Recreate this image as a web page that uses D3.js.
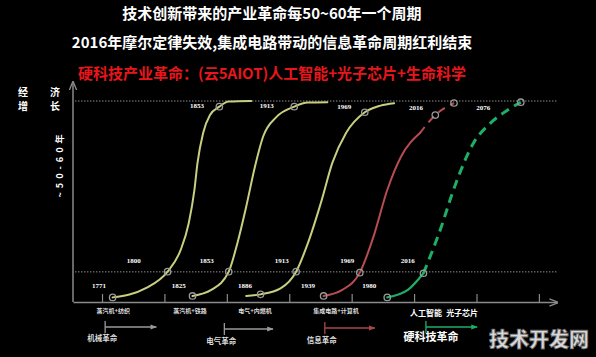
<!DOCTYPE html>
<html><head><meta charset="utf-8">
<script src="https://cdn.jsdelivr.net/npm/d3@7"></script>
<style>body{margin:0;background:#000;} svg{display:block;}</style>
</head><body>
<svg id="c" width="596" height="357"></svg>
<script>
// ---------- data ----------
const titleLines = ["技术创新带来的产业革命每50~60年一个周期", "2016年摩尔定律失效,集成电路带动的信息革命周期红利结束"];
const subtitle = "硬科技产业革命：(云5AIOT)人工智能+光子芯片+生命科学";
const yLabelChars = [["经", "济"], ["增", "长"]];
const yPeriodLabel = "~50-60年";
const xTicks = [1, 2, 3, 4, 5, 6, 7, 8];
const refLevels = [15, 100];

// curves: [axis position, growth level]
const curve1 = [[1.17,2.3],[1.71,7.0],[2.05,15.1],[2.26,25.9],[2.39,39.3],[2.48,55.7],[2.53,69.2],[2.62,84.1],[2.73,93.0],[2.88,97.2],[3.03,99.7],[3.39,100]];
const curve2 = [[2.45,3.0],[2.75,6.0],[3.03,15.1],[3.17,29.4],[3.31,47.4],[3.45,67.3],[3.58,82.2],[3.80,92.2],[4.08,97.2],[4.30,99.2],[4.61,99.4]];
const curve3 = [[3.31,3.0],[3.54,3.8],[3.86,6.8],[4.11,15.1],[4.30,29.4],[4.52,50.7],[4.69,69.2],[4.91,84.1],[5.21,94.4],[5.46,97.7],[5.68,98.9]];
const curve4 = [[4.55,3.0],[4.85,6.0],[5.13,14.6],[5.35,32.5],[5.57,55.7],[5.79,72.3],[6.09,83.9],[6.34,93.0],[6.64,99.0]];
const curve5 = [[5.57,2.3],[5.90,6.0],[6.15,14.3],[6.40,34.2],[6.67,59.1],[6.95,79.0],[7.22,88.9],[7.50,95.5],[7.71,99.4]];
const curves = [curve1, curve2, curve3, curve4, curve5];
const solidUntil = [11, 10, 10, 6, 2];   // index where the solid part ends

const markers = [[1.17,2.3],[2.05,15.1],[2.88,97.2],[2.45,3.0],[3.03,15.1],[4.08,97.2],[3.54,3.8],[4.11,15.1],[5.21,94.4],
                 [4.55,3.0],[5.13,14.6],[6.34,93.0],[6.64,99.0],[5.57,2.3],[6.15,14.3],[7.71,99.4]];

const yearLabels = ["1771","1800","1853","1825","1886","1913","1939","1969","1980","2016","1853","1913","1969","2016","2076"];
const yearLabelPos = [[0.95,8],[1.51,20.4],[2.68,20.4],[2.23,8],[3.29,8],[3.88,20.4],[4.30,8],[4.93,20.4],[5.28,8],[5.90,20.4],
                      [2.52,97.5],[3.64,97.5],[4.88,97.0],[6.03,96.5],[7.11,96.5]];

const techLabels = ["蒸汽机+纺织", "蒸汽机+铁路", "电气+内燃机", "集成电路+计算机"];
const techPos = [1.18, 2.41, 3.45, 4.75];
const futureTech = ["人工智能", "光子芯片"];
const futureTechPos = [6.19, 6.77];

const revolutions = ["机械革命", "电气革命", "信息革命", "硬科技革命"];
const revStart = [1.05, 2.96, 4.57, 6.19];
const revEnd = [1.87, 3.74, 5.37, 7.01];
const watermark = "技术开发网";

// ---------- styles ----------
const curveColors = ["#c9cf80", "#c9cf80", "#c9cf80", "#b84c50", "#1fae66"];
const curveWidths = [2, 2, 2, 2, 2.2];
const dashWidths = [2, 2, 2, 2, 3];
const dashArrays = ["", "", "", "8,6", "9,6"];
const revColors = ["#9a9a9a", "#9a9a9a", "#a9474b", "#1fae66"];
const revY = [327, 329, 328, 327];
const revTextY = [341, 344, 343, 341];

const svg = d3.select("#c");
svg.append("rect").attr("width", 596).attr("height", 357).attr("fill", "#000");

const x = d3.scaleLinear().domain([0.535, 8.29]).range([73, 557]);
const y = d3.scaleLinear().domain([0, 100]).range([302, 101]);

const defs = svg.append("defs");
defs.append("marker").attr("id", "arr").attr("viewBox", "0 0 10 10").attr("refX", 9).attr("refY", 5)
  .attr("markerWidth", 6).attr("markerHeight", 6).attr("orient", "auto-start-reverse")
  .append("path").attr("d", "M0,1 L10,5 L0,9").attr("fill", "none").attr("stroke", "#8a8a8a").attr("stroke-width", 1.5);
revColors.forEach((c, i) => {
  defs.append("marker").attr("id", "ra" + i).attr("viewBox", "0 0 10 10").attr("refX", 9).attr("refY", 5)
    .attr("markerWidth", 5).attr("markerHeight", 5).attr("orient", "auto")
    .append("path").attr("d", "M0,1 L10,5 L0,9 Z").attr("fill", c);
});

const F = "'Noto Sans CJK SC','Noto Sans',sans-serif";

// titles
svg.selectAll("text.title").data(titleLines).join("text").attr("class", "title")
  .attr("x", 272).attr("y", (d, i) => 19 + i * 29).attr("text-anchor", "middle")
  .attr("fill", "#fff").attr("font-family", F).attr("font-weight", "bold").attr("font-size", 15).text(d => d);
svg.append("text").attr("x", 272).attr("y", 79).attr("text-anchor", "middle").attr("fill", "#e8161c")
  .attr("font-family", F).attr("font-weight", "bold").attr("font-size", 15).text(subtitle);

// y label
yLabelChars.forEach((row, r) => row.forEach((ch, c) => {
  svg.append("text").attr("x", 23 + c * 32).attr("y", 96 + r * 14).attr("text-anchor", "middle")
    .attr("fill", "#fff").attr("font-family", F).attr("font-weight", "bold").attr("font-size", 10).text(ch);
}));
svg.append("text").attr("transform", "translate(63,164) rotate(-90)").attr("text-anchor", "middle")
  .attr("fill", "#fff").attr("font-family", F).attr("font-weight", "bold").attr("font-size", 9)
  .attr("letter-spacing", 4).text(yPeriodLabel);

// axes
const yAx = d3.scaleLinear().domain([0, 109.5]).range([302, 82]);
const gy = svg.append("g").attr("transform", "translate(73,0)").call(d3.axisLeft(yAx).tickValues([]).tickSizeOuter(0));
gy.select(".domain").attr("stroke", "#8a8a8a").attr("stroke-width", 1.5).attr("marker-end", "url(#arr)")
  .attr("d", `M0,${yAx(0)}V${yAx(109.5)}`);
const gx = svg.append("g").attr("transform", "translate(0,302)")
  .call(d3.axisTop(x).tickValues(xTicks).tickSize(8).tickSizeOuter(0).tickFormat(""));
gx.select(".domain").attr("stroke", "#8a8a8a").attr("stroke-width", 1.5).attr("marker-end", "url(#arr)");
gx.selectAll(".tick line").attr("stroke", "#8a8a8a").attr("stroke-width", 1.2);

// reference dotted lines
svg.selectAll("line.ref").data(refLevels).join("line").attr("class", "ref")
  .attr("x1", x(0.57)).attr("x2", x(8.3)).attr("y1", d => y(d)).attr("y2", d => y(d))
  .attr("stroke", "#aaa").attr("stroke-width", 1).attr("stroke-dasharray", "1.2,1.8");

// curves
const line = d3.line().x(d => x(d[0])).y(d => y(d[1])).curve(d3.curveMonotoneX);
curves.forEach((c, i) => {
  const s = solidUntil[i];
  svg.append("path").attr("d", line(c.slice(0, s + 1))).attr("fill", "none")
    .attr("stroke", curveColors[i]).attr("stroke-width", curveWidths[i]).attr("stroke-linecap", "round");
  if (s < c.length - 1) {
    svg.append("path").attr("d", line(c.slice(s))).attr("fill", "none")
      .attr("stroke", curveColors[i]).attr("stroke-width", dashWidths[i]).attr("stroke-dasharray", dashArrays[i]);
  }
});

// markers
svg.selectAll("circle.m").data(markers).join("circle").attr("class", "m")
  .attr("cx", d => x(d[0])).attr("cy", d => y(d[1])).attr("r", 3.2)
  .attr("fill", "none").attr("stroke", "#9a9a9a").attr("stroke-width", 1.3);

// year labels
svg.selectAll("text.yr").data(yearLabels).join("text").attr("class", "yr")
  .attr("x", (d, i) => x(yearLabelPos[i][0])).attr("y", (d, i) => y(yearLabelPos[i][1])).attr("dy", "0.35em")
  .attr("text-anchor", "middle").attr("fill", "#fff").attr("font-family", "'Liberation Serif',serif")
  .attr("font-weight", "bold").attr("font-size", 7).text(d => d);

// tech labels
svg.selectAll("text.tech").data(techLabels).join("text").attr("class", "tech")
  .attr("x", (d, i) => x(techPos[i])).attr("y", 313).attr("text-anchor", "middle")
  .attr("fill", "#ddd").attr("font-family", F).attr("font-weight", "bold").attr("font-size", 6).text(d => d);
svg.selectAll("text.ftech").data(futureTech).join("text").attr("class", "ftech")
  .attr("x", (d, i) => x(futureTechPos[i])).attr("y", 316).attr("text-anchor", "middle")
  .attr("fill", "#fff").attr("font-family", F).attr("font-weight", "bold").attr("font-size", 8).text(d => d);

// revolution arrows
revolutions.forEach((r, i) => {
  const c = revColors[i];
  svg.append("line").attr("x1", x(revStart[i])).attr("x2", x(revStart[i])).attr("y1", revY[i] - 6).attr("y2", revY[i] + 6)
    .attr("stroke", c).attr("stroke-width", 1.3);
  svg.append("line").attr("x1", x(revStart[i])).attr("x2", x(revEnd[i])).attr("y1", revY[i]).attr("y2", revY[i])
    .attr("stroke", c).attr("stroke-width", 1.3).attr("marker-end", `url(#ra${i})`);
  const big = i === 3;
  svg.append("text").attr("x", big ? x(revStart[i]) + 5 : x(revStart[i]) - 3).attr("y", revTextY[i])
    .attr("text-anchor", "middle").attr("fill", big ? "#fff" : "#ddd").attr("font-family", F)
    .attr("font-weight", "bold").attr("font-size", big ? 11 : 7.5).text(r);
});

// watermark
svg.append("text").attr("x", 539).attr("y", 347).attr("text-anchor", "middle")
  .attr("fill", "#d8d8d8").attr("stroke", "#666").attr("stroke-width", 0.8)
  .attr("font-family", F).attr("font-weight", "900").attr("font-size", 20).text(watermark);
</script>
</body></html>
